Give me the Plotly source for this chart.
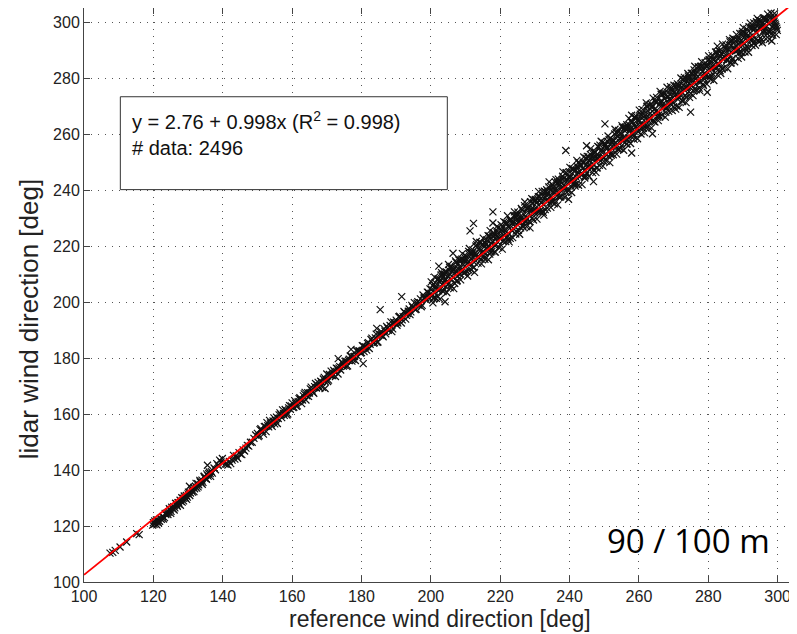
import plotly.graph_objects as go

# ---- fit / annotation values ----
fit_intercept = 2.76
fit_slope = 0.998
fit_r2 = 0.998
n_data = 2496
height_label = "90 / 100 m"

tick_values = [100, 120, 140, 160, 180, 200, 220, 240, 260, 280, 300]

# ---- scatter values (reference dir, lidar dir) ----
ref_low = [107.5, 108.3, 109.0, 110.4, 112.3, 115.2, 115.9,
           119.8, 120.0, 120.2, 120.4, 120.6, 120.8, 121.0, 121.2, 121.5, 121.8,
           122.3, 122.7, 123.2, 123.6, 124.0,
           124.4, 124.8, 125.1, 125.3, 125.6, 125.9, 126.2, 126.5, 126.8, 127.1,
           127.4, 127.7, 128.0, 128.3, 128.6, 128.9, 129.2, 129.5, 129.8, 130.1,
           130.4, 130.7, 131.0, 131.3, 131.6, 131.9, 132.2, 132.5, 132.8, 133.1,
           133.4, 133.7, 134.0, 134.3, 134.6, 134.9, 135.2, 135.5, 135.8, 136.1,
           136.4, 136.7, 137.0, 135.6,
           137.5, 137.9, 138.3, 138.7, 139.1, 139.5, 139.9, 140.3, 140.7, 141.1,
           141.5, 141.9, 142.3, 142.7, 143.1, 143.5, 143.9, 144.3, 144.7, 145.1,
           145.5, 145.9, 146.3, 146.7, 147.1, 147.5, 148.0, 148.5, 149.0, 149.5]
lidar_low = [110.3, 110.6, 111.3, 112.5, 114.3, 117.3, 116.9,
             120.3, 121.2, 120.6, 121.8, 120.9, 121.5, 120.4, 122.1, 121.0, 121.7,
             122.4, 123.3, 123.0, 124.1, 124.8,
             125.0, 125.9, 125.2, 126.7, 126.2, 126.9, 126.5, 128.1, 127.4, 128.3,
             127.8, 129.2, 128.8, 128.5, 129.9, 130.7, 129.9, 130.9, 130.3, 132.1,
             134.2, 131.8, 132.7, 132.1, 133.8, 133.3, 134.1, 133.5, 135.1, 134.7,
             136.3, 135.5, 136.4, 135.6, 137.6, 137.0, 136.9, 138.3, 137.8, 139.3,
             138.7, 139.4, 138.9, 141.7,
             140.7, 140.1, 142.3, 141.6, 143.5, 142.9, 144.1, 142.7, 142.1, 142.1,
             141.8, 143.1, 142.3, 143.5, 145.2, 143.9, 145.0, 144.2, 146.2, 145.7,
             145.5, 147.2, 146.8, 147.8, 148.8, 148.5, 149.9, 149.9, 151.3, 152.5]

ref_low_b = [120.9, 121.4, 122.0, 122.9, 123.4, 124.2, 124.6, 125.0, 125.5, 126.0,
             126.4, 126.9, 127.3, 127.8, 128.2, 128.7, 129.1, 129.6, 130.0, 130.5,
             131.1, 131.7, 132.3, 132.9, 133.5, 134.1, 134.7, 135.3, 135.9, 136.5]
lidar_low_b = [122.2, 121.4, 122.7, 122.5, 124.5, 124.1, 126.2, 124.5, 126.3, 125.7,
               128.1, 127.0, 128.3, 127.4, 130.1, 129.0, 130.3, 129.5, 131.5, 130.9,
               133.3, 132.3, 135.2, 134.0, 135.8, 134.9, 137.8, 136.7, 138.7, 137.7]

ref_mid_a = [150.0, 150.5, 151.0, 151.5, 152.0, 152.5, 153.0, 153.5, 154.0, 154.5,
             155.0, 155.5, 156.0, 156.5, 157.0, 157.5, 158.0, 158.5, 159.0, 159.5,
             160.0, 160.5, 161.0, 161.5, 162.0, 162.5, 163.0, 163.5, 164.0, 164.5,
             165.0, 165.5, 166.0, 166.5, 167.0, 167.5, 168.0, 168.5, 169.0, 169.5,
             170.0, 170.5, 171.0, 171.5, 172.0, 172.5, 173.0, 173.5, 174.0, 174.5,
             175.0, 175.5, 176.0, 176.5, 177.0, 177.5, 178.0, 178.5, 179.0, 179.5,
             180.0, 180.5, 181.0, 181.5, 182.0, 182.5, 183.0, 183.5, 184.0, 184.5,
             185.0, 185.5, 186.0, 186.5, 187.0, 187.5, 188.0, 188.5, 189.0, 189.5,
             190.0, 190.5, 191.0, 191.5, 192.0, 192.5, 193.0, 193.5, 194.0, 194.5,
             195.0, 195.5, 196.0, 196.5, 197.0, 197.5, 198.0, 198.5, 199.0, 199.5]
lidar_mid_a = [153.1, 152.3, 154.8, 153.8, 155.5, 153.7, 155.8, 157.7, 156.0, 157.5,
               156.5, 158.9, 158.4, 160.4, 158.7, 160.2, 161.6, 159.6, 162.2, 161.7,
               164.0, 162.4, 163.9, 162.9, 165.5, 165.1, 165.0, 167.2, 165.0, 167.6,
               167.5, 169.6, 167.8, 169.8, 169.3, 171.3, 169.3, 171.5, 172.5, 171.6,
               174.3, 172.1, 173.8, 173.7, 175.6, 173.4, 176.2, 176.4, 175.7, 178.4,
               177.4, 178.9, 177.2, 179.6, 180.7, 179.5, 180.6, 182.7, 180.5, 182.5,
               181.9, 184.3, 183.9, 182.8, 185.5, 184.9, 187.1, 185.3, 187.2, 185.6,
               188.6, 188.2, 188.1, 190.5, 188.6, 190.8, 190.3, 192.9, 190.4, 192.5,
               193.5, 192.5, 194.9, 192.5, 194.8, 196.2, 195.2, 196.7, 195.5, 198.8,
               197.9, 197.3, 199.6, 198.9, 201.1, 198.8, 201.4, 201.6, 203.5, 201.6]

ref_mid_b = [150.25, 150.75, 151.25, 151.75, 152.25, 152.75, 153.25, 153.75, 154.25, 154.75,
             155.25, 155.75, 156.25, 156.75, 157.25, 157.75, 158.25, 158.75, 159.25, 159.75,
             160.25, 160.75, 161.25, 161.75, 162.25, 162.75, 163.25, 163.75, 164.25, 164.75,
             165.25, 165.75, 166.25, 166.75, 167.25, 167.75, 168.25, 168.75, 169.25, 169.75,
             170.25, 170.75, 171.25, 171.75, 172.25, 172.75, 173.25, 173.75, 174.25, 174.75,
             175.25, 175.75, 176.25, 176.75, 177.25, 177.75, 178.25, 178.75, 179.25, 179.75,
             180.25, 180.75, 181.25, 181.75, 182.25, 182.75, 183.25, 183.75, 184.25, 184.75,
             185.25, 185.75, 186.25, 186.75, 187.25, 187.75, 188.25, 188.75, 189.25, 189.75,
             190.25, 190.75, 191.25, 191.75, 192.25, 192.75, 193.25, 193.75, 194.25, 194.75,
             195.25, 195.75, 196.25, 196.75, 197.25, 197.75, 198.25, 198.75, 199.25, 199.75]
lidar_mid_b = [151.9, 154.4, 154.0, 152.8, 155.6, 156.9, 155.4, 156.8, 155.6, 158.6,
               157.8, 156.6, 159.7, 159.7, 161.5, 159.5, 161.1, 160.0, 163.0, 162.9,
               162.3, 164.8, 162.7, 164.4, 165.8, 163.7, 166.5, 167.7, 166.5, 166.3,
               169.0, 168.5, 167.4, 170.9, 170.3, 169.6, 171.7, 169.5, 173.1, 172.3,
               171.6, 174.1, 175.3, 173.7, 175.1, 176.4, 174.3, 176.9, 178.6, 177.1,
               178.8, 177.0, 179.2, 180.7, 178.9, 180.4, 179.1, 182.5, 182.5, 181.8,
               184.4, 182.3, 184.0, 185.2, 183.4, 186.6, 185.8, 185.5, 188.5, 185.7,
               188.3, 189.4, 187.6, 189.6, 191.3, 189.9, 191.6, 189.4, 192.8, 192.5,
               191.7, 194.7, 194.4, 193.6, 196.6, 193.9, 195.9, 197.5, 196.5, 198.2,
               199.8, 197.4, 200.1, 199.7, 198.3, 202.5, 201.6, 200.7, 203.4, 204.7]

ref_high_a = [200.0, 200.5, 201.0, 201.5, 202.0, 202.5, 203.0, 203.5, 204.0, 204.5,
              205.0, 205.5, 206.0, 206.5, 207.0, 207.5, 208.0, 208.5, 209.0, 209.5,
              210.0, 210.5, 211.0, 211.5, 212.0, 212.5, 213.0, 213.5, 214.0, 214.5,
              215.0, 215.5, 216.0, 216.5, 217.0, 217.5, 218.0, 218.5, 219.0, 219.5,
              220.0, 220.5, 221.0, 221.5, 222.0, 222.5, 223.0, 223.5, 224.0, 224.5,
              225.0, 225.5, 226.0, 226.5, 227.0, 227.5, 228.0, 228.5, 229.0, 229.5,
              230.0, 230.5, 231.0, 231.5, 232.0, 232.5, 233.0, 233.5, 234.0, 234.5,
              235.0, 235.5, 236.0, 236.5, 237.0, 237.5, 238.0, 238.5, 239.0, 239.5,
              240.0, 240.5, 241.0, 241.5, 242.0, 242.5, 243.0, 243.5, 244.0, 244.5,
              245.0, 245.5, 246.0, 246.5, 247.0, 247.5, 248.0, 248.5, 249.0, 249.5,
              250.0, 250.5, 251.0, 251.5, 252.0, 252.5, 253.0, 253.5, 254.0, 254.5,
              255.0, 255.5, 256.0, 256.5, 257.0, 257.5, 258.0, 258.5, 259.0, 259.5]
lidar_high_a = [203.1, 205.9, 201.7, 205.5, 207.9, 204.5, 207.7, 203.7, 207.5, 210.7,
                206.4, 209.9, 212.7, 208.8, 212.1, 207.4, 211.7, 215.0, 211.8, 210.5,
                215.5, 213.8, 211.4, 217.5, 216.1, 214.2, 220.0, 216.2, 218.8, 215.3,
                220.7, 217.7, 220.5, 223.7, 217.1, 220.9, 223.3, 220.1, 225.4, 223.3,
                220.6, 225.5, 223.9, 228.3, 223.2, 226.8, 229.1, 225.4, 228.6, 224.3,
                231.3, 228.7, 229.9, 227.4, 234.4, 230.1, 233.2, 228.8, 233.2, 235.3,
                231.8, 235.4, 237.6, 232.6, 235.5, 238.1, 233.0, 237.9, 241.1, 237.5,
                236.3, 240.9, 239.6, 242.7, 237.5, 240.6, 244.9, 240.6, 243.7, 243.5,
                246.5, 241.2, 244.3, 247.0, 242.2, 249.8, 246.7, 245.9, 249.9, 247.3,
                246.0, 250.6, 252.7, 248.2, 251.1, 253.5, 247.9, 251.9, 253.8, 257.0,
                251.5, 255.0, 257.3, 254.2, 252.4, 257.8, 260.0, 255.5, 257.8, 260.2,
                255.8, 258.7, 261.0, 263.3, 258.6, 261.7, 264.4, 259.1, 262.5, 265.0]

ref_high_b = [200.25, 200.75, 201.25, 201.75, 202.25, 202.75, 203.25, 203.75, 204.25, 204.75,
              205.25, 205.75, 206.25, 206.75, 207.25, 207.75, 208.25, 208.75, 209.25, 209.75,
              210.25, 210.75, 211.25, 211.75, 212.25, 212.75, 213.25, 213.75, 214.25, 214.75,
              215.25, 215.75, 216.25, 216.75, 217.25, 217.75, 218.25, 218.75, 219.25, 219.75,
              220.25, 220.75, 221.25, 221.75, 222.25, 222.75, 223.25, 223.75, 224.25, 224.75,
              225.25, 225.75, 226.25, 226.75, 227.25, 227.75, 228.25, 228.75, 229.25, 229.75,
              230.25, 230.75, 231.25, 231.75, 232.25, 232.75, 233.25, 233.75, 234.25, 234.75,
              235.25, 235.75, 236.25, 236.75, 237.25, 237.75, 238.25, 238.75, 239.25, 239.75,
              240.25, 240.75, 241.25, 241.75, 242.25, 242.75, 243.25, 243.75, 244.25, 244.75,
              245.25, 245.75, 246.25, 246.75, 247.25, 247.75, 248.25, 248.75, 249.25, 249.75,
              250.25, 250.75, 251.25, 251.75, 252.25, 252.75, 253.25, 253.75, 254.25, 254.75,
              255.25, 255.75, 256.25, 256.75, 257.25, 257.75, 258.25, 258.75, 259.25, 259.75]
lidar_high_b = [204.5, 201.2, 206.9, 204.8, 204.0, 208.0, 209.9, 204.7, 208.2, 207.4,
                211.4, 206.0, 210.9, 210.2, 214.2, 209.3, 212.6, 211.2, 215.1, 214.8,
                211.0, 214.0, 217.7, 215.4, 212.3, 217.6, 220.5, 215.9, 218.3, 220.4,
                216.5, 221.2, 219.1, 223.5, 217.8, 221.6, 224.5, 220.6, 224.4, 222.9,
                227.6, 221.8, 225.8, 227.7, 222.4, 226.3, 228.6, 226.3, 230.9, 228.9,
                225.6, 230.5, 232.8, 229.7, 228.7, 233.3, 231.9, 235.8, 230.0, 233.1,
                236.3, 233.0, 236.2, 235.5, 232.5, 239.6, 236.4, 239.0, 235.4, 241.1,
                239.2, 236.4, 239.7, 243.9, 241.9, 239.5, 244.0, 241.5, 239.2, 244.8,
                244.6, 247.7, 242.6, 244.8, 248.4, 244.8, 248.7, 247.6, 244.7, 251.4,
                248.5, 250.6, 247.9, 253.0, 251.7, 247.9, 251.2, 256.0, 254.4, 251.7,
                255.9, 254.8, 252.0, 258.5, 255.6, 257.7, 255.6, 260.3, 254.5, 258.4,
                262.4, 258.4, 261.6, 258.0, 263.2, 262.3, 260.1, 266.1, 262.7, 260.8]

ref_high_c = [200.4, 200.9, 201.4, 201.9, 202.4, 202.9, 203.4, 203.9, 204.4, 204.9,
              205.4, 205.9, 206.4, 206.9, 207.4, 207.9, 208.4, 208.9, 209.4, 209.9,
              210.4, 210.9, 211.4, 211.9, 212.4, 212.9, 213.4, 213.9, 214.4, 214.9,
              215.4, 215.9, 216.4, 216.9, 217.4, 217.9, 218.4, 218.9, 219.4, 219.9,
              220.4, 220.9, 221.4, 221.9, 222.4, 222.9, 223.4, 223.9, 224.4, 224.9,
              225.4, 225.9, 226.4, 226.9, 227.4, 227.9, 228.4, 228.9, 229.4, 229.9,
              230.4, 230.9, 231.4, 231.9, 232.4, 232.9, 233.4, 233.9, 234.4, 234.9,
              235.4, 235.9, 236.4, 236.9, 237.4, 237.9, 238.4, 238.9, 239.4, 239.9,
              240.4, 240.9, 241.4, 241.9, 242.4, 242.9, 243.4, 243.9, 244.4, 244.9,
              245.4, 245.9, 246.4, 246.9, 247.4, 247.9, 248.4, 248.9, 249.4, 249.9,
              250.4, 250.9, 251.4, 251.9, 252.4, 252.9, 253.4, 253.9, 254.4, 254.9,
              255.4, 255.9, 256.4, 256.9, 257.4, 257.9, 258.4, 258.9, 259.4, 259.9]
lidar_high_c = [202.2, 206.4, 205.1, 202.2, 207.3, 209.6, 206.1, 210.0, 205.5, 209.1,
                212.4, 208.2, 211.6, 206.6, 210.8, 213.8, 209.9, 215.3, 213.3, 210.6,
                215.1, 218.1, 213.9, 217.2, 212.4, 216.5, 219.6, 215.8, 221.2, 218.0,
                215.8, 220.9, 219.7, 223.5, 218.8, 223.6, 217.9, 223.3, 226.5, 222.7,
                225.8, 221.8, 225.4, 228.2, 224.5, 222.7, 228.2, 230.8, 226.8, 230.7,
                228.9, 226.5, 232.9, 231.2, 229.1, 233.9, 228.6, 232.7, 236.6, 232.9,
                235.5, 232.2, 237.6, 235.6, 232.0, 237.5, 240.1, 236.1, 239.9, 235.7,
                239.5, 242.8, 238.0, 241.8, 237.5, 243.8, 241.7, 246.0, 240.4, 244.4,
                243.0, 247.2, 241.9, 247.1, 246.2, 249.7, 245.2, 249.5, 244.3, 249.1,
                251.9, 248.8, 251.2, 247.3, 253.5, 251.4, 255.4, 250.4, 253.7, 250.2,
                256.1, 254.8, 258.0, 253.1, 257.1, 255.4, 260.6, 254.6, 258.4, 260.2,
                257.4, 262.3, 256.4, 262.0, 261.0, 264.1, 259.7, 265.8, 262.1, 264.4]

ref_high_d = [200.1, 200.6, 201.1, 201.6, 202.1, 202.6, 203.1, 203.6, 204.1, 204.6,
              205.1, 205.6, 206.1, 206.6, 207.1, 207.6, 208.1, 208.6, 209.1, 209.6,
              210.1, 210.6, 211.1, 211.6, 212.1, 212.6, 213.1, 213.6, 214.1, 214.6,
              215.1, 215.6, 216.1, 216.6, 217.1, 217.6, 218.1, 218.6, 219.1, 219.6,
              220.1, 220.6, 221.1, 221.6, 222.1, 222.6, 223.1, 223.6, 224.1, 224.6,
              225.1, 225.6, 226.1, 226.6, 227.1, 227.6, 228.1, 228.6, 229.1, 229.6,
              230.1, 230.6, 231.1, 231.6, 232.1, 232.6, 233.1, 233.6, 234.1, 234.6,
              235.1, 235.6, 236.1, 236.6, 237.1, 237.6, 238.1, 238.6, 239.1, 239.6,
              240.1, 240.6, 241.1, 241.6, 242.1, 242.6, 243.1, 243.6, 244.1, 244.6,
              245.1, 245.6, 246.1, 246.6, 247.1, 247.6, 248.1, 248.6, 249.1, 249.6,
              250.1, 250.6, 251.1, 251.6, 252.1, 252.6, 253.1, 253.6, 254.1, 254.6,
              255.1, 255.6, 256.1, 256.6, 257.1, 257.6, 258.1, 258.6, 259.1, 259.6]
lidar_high_d = [207.2, 199.7, 208.9, 201.3, 208.3, 201.0, 210.5, 204.0, 210.7, 203.4,
                213.4, 205.1, 212.0, 204.8, 214.7, 207.7, 215.0, 207.9, 217.3, 210.2,
                216.5, 209.3, 219.1, 211.5, 217.8, 210.6, 221.6, 213.9, 221.3, 213.6,
                222.8, 215.2, 222.2, 215.1, 225.5, 218.1, 224.8, 217.8, 227.0, 219.4,
                226.1, 218.9, 228.6, 221.6, 230.8, 221.5, 229.4, 223.0, 232.2, 225.3,
                232.1, 224.2, 233.4, 226.8, 235.7, 226.9, 233.9, 226.5, 236.9, 229.3,
                236.6, 229.6, 239.4, 232.0, 239.5, 231.0, 239.3, 233.5, 242.9, 233.8,
                241.9, 235.1, 243.7, 234.7, 243.1, 237.9, 246.5, 237.4, 246.2, 239.7,
                248.1, 239.1, 247.4, 241.4, 250.6, 241.7, 249.0, 241.9, 251.8, 245.1,
                252.0, 244.9, 254.8, 246.2, 253.2, 246.3, 255.6, 248.8, 257.4, 248.5,
                256.7, 250.3, 259.3, 249.8, 257.9, 252.6, 261.7, 252.8, 261.3, 254.9,
                263.0, 254.2, 262.5, 256.5, 265.6, 256.6, 264.3, 258.1, 266.5, 258.3]

ref_top_a = [260.0, 260.5, 261.0, 261.5, 262.0, 262.5, 263.0, 263.5, 264.0, 264.5,
             265.0, 265.5, 266.0, 266.5, 267.0, 267.5, 268.0, 268.5, 269.0, 269.5,
             270.0, 270.5, 271.0, 271.5, 272.0, 272.5, 273.0, 273.5, 274.0, 274.5,
             275.0, 275.5, 276.0, 276.5, 277.0, 277.5, 278.0, 278.5, 279.0, 279.5,
             280.0, 280.5, 281.0, 281.5, 282.0, 282.5, 283.0, 283.5, 284.0, 284.5,
             285.0, 285.5, 286.0, 286.5, 287.0, 287.5, 288.0, 288.5, 289.0, 289.5,
             290.0, 290.5, 291.0, 291.5, 292.0, 292.5, 293.0, 293.5, 294.0, 294.5,
             295.0, 295.5, 296.0, 296.5, 297.0, 297.5, 298.0, 298.5, 299.0, 299.5]
lidar_top_a = [265.1, 261.9, 267.5, 264.9, 262.3, 268.3, 265.7, 270.7, 264.9, 268.9,
               271.3, 267.7, 266.1, 272.0, 270.8, 274.5, 269.3, 273.3, 271.9, 275.6,
               269.8, 274.1, 276.3, 273.2, 276.2, 271.9, 278.9, 276.6, 274.6, 279.2,
               277.5, 281.6, 276.0, 279.8, 282.0, 278.7, 284.2, 277.8, 281.8, 284.0,
               280.5, 286.1, 283.3, 281.2, 286.1, 288.3, 284.6, 287.8, 283.2, 287.7,
               290.4, 286.3, 288.6, 291.6, 286.9, 293.8, 291.5, 289.9, 293.8, 289.1,
               293.0, 296.2, 291.4, 295.4, 293.9, 297.7, 292.5, 297.9, 296.2, 300.7,
               294.3, 298.3, 297.0, 300.8, 295.8, 299.3, 301.7, 298.2, 300.3, 298.4]

ref_top_b = [260.25, 260.75, 261.25, 261.75, 262.25, 262.75, 263.25, 263.75, 264.25, 264.75,
             265.25, 265.75, 266.25, 266.75, 267.25, 267.75, 268.25, 268.75, 269.25, 269.75,
             270.25, 270.75, 271.25, 271.75, 272.25, 272.75, 273.25, 273.75, 274.25, 274.75,
             275.25, 275.75, 276.25, 276.75, 277.25, 277.75, 278.25, 278.75, 279.25, 279.75,
             280.25, 280.75, 281.25, 281.75, 282.25, 282.75, 283.25, 283.75, 284.25, 284.75,
             285.25, 285.75, 286.25, 286.75, 287.25, 287.75, 288.25, 288.75, 289.25, 289.75,
             290.25, 290.75, 291.25, 291.75, 292.25, 292.75, 293.25, 293.75, 294.25, 294.75,
             295.25, 295.75, 296.25, 296.75, 297.25, 297.75, 298.25, 298.75, 299.25, 299.75]
lidar_top_b = [262.9, 266.8, 262.0, 266.4, 269.7, 264.8, 267.4, 269.4, 264.5, 271.4,
               268.5, 266.8, 271.2, 274.1, 269.7, 267.7, 273.5, 272.5, 276.1, 271.3,
               274.9, 277.3, 272.4, 274.6, 278.0, 276.3, 273.5, 278.9, 280.7, 276.6,
               279.1, 275.4, 281.7, 279.0, 283.9, 278.5, 282.3, 284.0, 280.8, 284.2,
               286.6, 280.8, 284.3, 286.6, 283.3, 285.3, 289.8, 284.0, 289.2, 287.5,
               286.5, 290.2, 292.9, 286.2, 291.0, 289.7, 293.8, 291.9, 289.7, 295.9,
               294.5, 290.6, 294.6, 298.3, 293.5, 295.3, 298.1, 294.0, 299.7, 297.7,
               299.1, 296.3, 301.5, 298.5, 296.9, 301.3, 296.9, 301.2, 299.6, 297.8]

ref_top_c = [260.4, 260.9, 261.4, 261.9, 262.4, 262.9, 263.4, 263.9, 264.4, 264.9,
             265.4, 265.9, 266.4, 266.9, 267.4, 267.9, 268.4, 268.9, 269.4, 269.9,
             270.4, 270.9, 271.4, 271.9, 272.4, 272.9, 273.4, 273.9, 274.4, 274.9,
             275.4, 275.9, 276.4, 276.9, 277.4, 277.9, 278.4, 278.9, 279.4, 279.9,
             280.4, 280.9, 281.4, 281.9, 282.4, 282.9, 283.4, 283.9, 284.4, 284.9,
             285.4, 285.9, 286.4, 286.9, 287.4, 287.9, 288.4, 288.9, 289.4, 289.9,
             290.4, 290.9, 291.4, 291.9, 292.4, 292.9, 293.4, 293.9, 294.4, 294.9,
             295.4, 295.9, 296.4, 296.9, 297.4, 297.9, 298.4, 298.9, 299.4, 299.9]
lidar_top_c = [267.1, 263.4, 266.2, 262.9, 270.0, 266.9, 265.2, 269.8, 267.5, 272.0,
               266.0, 270.4, 274.2, 269.7, 272.6, 269.4, 274.8, 272.5, 270.3, 275.6,
               273.6, 270.0, 277.4, 273.9, 276.8, 279.5, 273.8, 276.8, 279.9, 274.5,
               279.6, 282.9, 277.7, 280.5, 276.4, 283.7, 281.0, 279.6, 284.3, 286.2,
               280.2, 284.0, 286.7, 283.6, 289.2, 286.8, 282.6, 288.5, 286.7, 290.9,
               286.5, 290.1, 285.3, 293.4, 290.4, 289.5, 293.6, 289.0, 293.2, 296.6,
               292.2, 295.8, 290.8, 294.6, 298.2, 293.7, 297.5, 300.1, 293.4, 298.2,
               293.6, 298.9, 296.6, 301.0, 296.5, 299.9, 296.0, 301.7, 299.0, 297.0]

ref_top_d = [260.1, 260.6, 261.1, 261.6, 262.1, 262.6, 263.1, 263.6, 264.1, 264.6,
             265.1, 265.6, 266.1, 266.6, 267.1, 267.6, 268.1, 268.6, 269.1, 269.6,
             270.1, 270.6, 271.1, 271.6, 272.1, 272.6, 273.1, 273.6, 274.1, 274.6,
             275.1, 275.6, 276.1, 276.6, 277.1, 277.6, 278.1, 278.6, 279.1, 279.6,
             280.1, 280.6, 281.1, 281.6, 282.1, 282.6, 283.1, 283.6, 284.1, 284.6,
             285.1, 285.6, 286.1, 286.6, 287.1, 287.6, 288.1, 288.6, 289.1, 289.6,
             290.1, 290.6, 291.1, 291.6, 292.1, 292.6, 293.1, 293.6, 294.1, 294.6,
             295.1, 295.6, 296.1, 296.6, 297.1, 297.6, 298.1, 298.6, 299.1, 299.6]
lidar_top_d = [268.5, 260.0, 268.7, 260.5, 271.1, 262.6, 270.3, 262.2, 272.8, 264.3,
               273.1, 264.8, 275.2, 266.8, 274.5, 266.0, 276.7, 268.1, 276.9, 268.4,
               277.4, 268.9, 277.9, 269.5, 280.0, 271.6, 280.2, 271.2, 281.6, 273.1,
               281.7, 273.7, 284.2, 275.8, 284.0, 275.4, 285.8, 277.3, 285.5, 277.8,
               287.9, 279.5, 288.1, 279.1, 289.3, 281.2, 289.6, 281.6, 292.1, 283.7,
               291.8, 283.3, 293.7, 285.4, 294.2, 285.8, 295.5, 287.0, 295.9, 287.5,
               298.0, 289.3, 297.4, 289.2, 299.6, 291.6, 299.7, 291.7, 301.3, 292.9,
               300.5, 292.6, 300.9, 294.0, 302.8, 293.8, 303.2, 295.3, 303.1, 295.5]

ref_outliers = [173.3, 169.5, 180.5, 177.0, 185.4, 191.6, 184.4, 202.3, 206.4, 211.3,
                212.3, 217.9, 217.9, 204.1, 238.9, 250.2, 244.9, 246.9, 239.7, 257.9,
                257.9, 263.9, 274.9, 279.7, 282.6, 298.3, 295.9]
lidar_outliers = [179.8, 169.1, 178.0, 183.1, 197.3, 201.9, 190.6, 212.8, 217.4, 225.4,
                  228.1, 232.2, 228.2, 200.1, 254.1, 263.6, 255.8, 243.0, 236.7, 266.7,
                  253.2, 260.1, 267.8, 274.9, 291.4, 293.2, 301.5]

ref_dir = (ref_low + ref_low_b + ref_mid_a + ref_mid_b + ref_high_a + ref_high_b
           + ref_high_c + ref_high_d + ref_top_a + ref_top_b + ref_top_c + ref_top_d
           + ref_outliers)
lidar_dir = (lidar_low + lidar_low_b + lidar_mid_a + lidar_mid_b + lidar_high_a
             + lidar_high_b + lidar_high_c + lidar_high_d + lidar_top_a + lidar_top_b
             + lidar_top_c + lidar_top_d + lidar_outliers)

axis_range = [100, 305]
fit_x = axis_range
fit_y = [fit_intercept + fit_slope * v for v in fit_x]

fig = go.Figure()
fig.add_trace(go.Scatter(
    x=ref_dir, y=lidar_dir, mode="markers",
    marker=dict(symbol="x-thin", size=7, color="#111111",
                line=dict(width=1.2, color="#111111")),
    showlegend=False, hoverinfo="skip"))
fig.add_trace(go.Scatter(
    x=fit_x, y=fit_y, mode="lines",
    line=dict(color="#ff0000", width=1.8),
    showlegend=False, hoverinfo="skip"))

tick_font = dict(family="Liberation Sans, Arial, sans-serif", size=16, color="#222222")
axis_style = dict(
    range=axis_range, tickvals=tick_values, ticktext=[str(v) for v in tick_values],
    showgrid=True, gridcolor="#555555", gridwidth=1, griddash="1px,6px",
    showline=True, linecolor="#444444", linewidth=1, mirror="ticks",
    ticks="inside", ticklen=6, tickcolor="#444444", tickfont=tick_font,
    zeroline=False, fixedrange=True)

fig.update_xaxes(**axis_style)
fig.update_yaxes(**axis_style)

label_font = dict(family="Liberation Sans, Arial, sans-serif", size=23, color="#222222")
ylabel_font = dict(family="Liberation Sans, Arial, sans-serif", size=26, color="#222222")

# the page body has an 8px margin, so the figure is sized to end at the window edge
fig.update_layout(
    width=789, height=626,
    margin=dict(l=76, r=2, t=0, b=52, pad=0),
    paper_bgcolor="white", plot_bgcolor="white",
    shapes=[dict(type="rect", xref="paper", yref="paper",
                 x0=0.0511, x1=0.511, y0=0.6836, y1=0.8454,
                 line=dict(color="#333333", width=1), fillcolor="white", layer="above")],
    annotations=[
        dict(xref="paper", yref="paper", x=0.0647, y=0.830, xanchor="left", yanchor="top",
             align="left", showarrow=False,
             text=(f"y = {fit_intercept:.2f} + {fit_slope:.3f}x (R<sup>2</sup> = {fit_r2:.3f})"
                   f"<br># data: {n_data}"),
             font=dict(family="Liberation Sans, Arial, sans-serif", size=20, color="#111111")),
        dict(xref="paper", yref="paper", x=0.9677, y=0.0725, xanchor="right", yanchor="middle",
             showarrow=False, text=height_label,
             font=dict(family="Open Sans, Noto Sans, sans-serif", size=33, color="#000000")),
        dict(xref="paper", yref="paper", x=0.5, y=-0.0652, xanchor="center", yanchor="middle",
             showarrow=False, text="reference wind direction [deg]", font=label_font),
        dict(xref="paper", yref="paper", x=-0.078, y=0.457, xanchor="center", yanchor="middle",
             showarrow=False, text="lidar wind direction [deg]", textangle=-90, font=ylabel_font),
    ])

fig.write_html("out.html")
